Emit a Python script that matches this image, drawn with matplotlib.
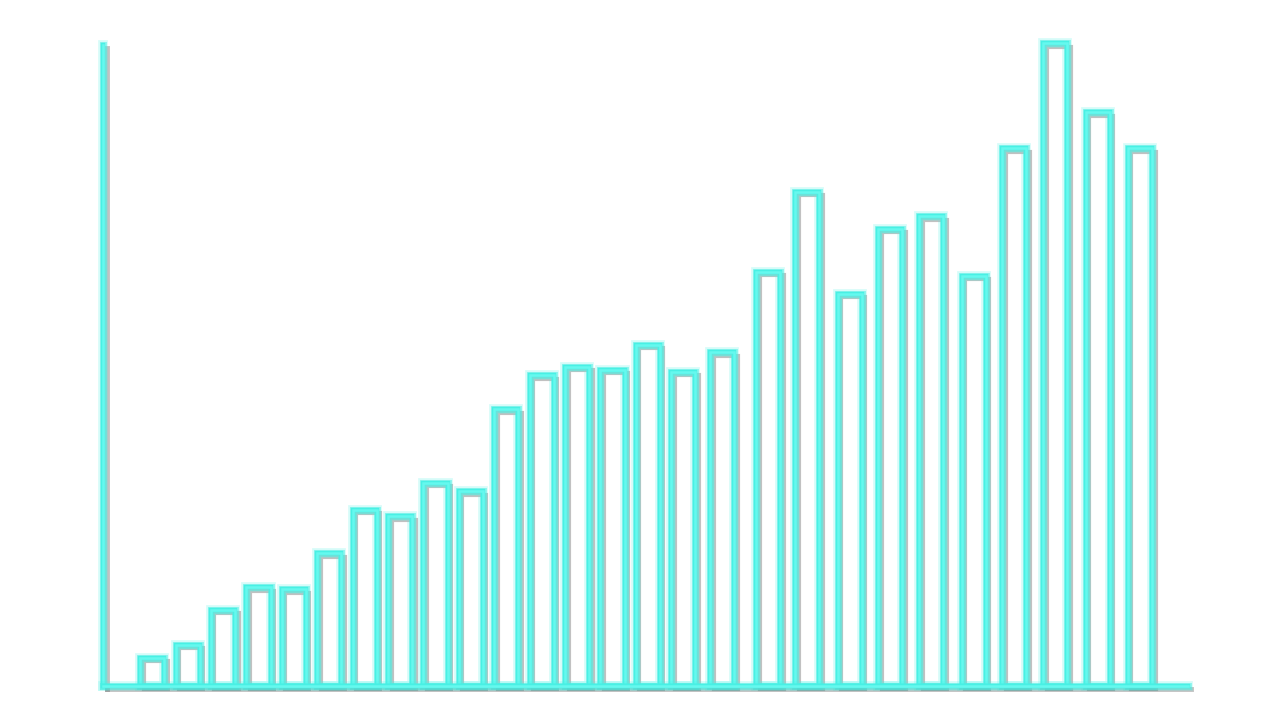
import numpy as np
import matplotlib
matplotlib.use('Agg')
import matplotlib.pyplot as plt
import matplotlib.patheffects as pe

# bar positions (x values are not evenly spaced) and heights
x_vals = [1, 2, 3, 4, 5, 6, 7, 8, 9, 10, 11, 12, 13, 14, 15, 16,
          17.1, 18.4, 19.5, 20.7, 21.85, 23.0, 24.2, 25.35, 26.5, 27.7, 28.9]
heights = [4.4, 6.4, 11.9, 15.4, 15.1, 20.7, 27.5, 26.5, 31.7, 30.4, 43.2,
           48.5, 49.8, 49.3, 53.2, 49.0, 52.1, 64.6, 77.1, 61.2, 71.3, 73.3,
           64.0, 83.9, 100.3, 89.5, 83.9]

neon = '#48f0e4'
core = '#66f8ee'
# grey drop shadow, cyan halo, then the line itself
glow = [pe.SimpleLineShadow(offset=(2.5, -2.5), shadow_color='0.4', alpha=0.4),
        pe.Stroke(linewidth=7, foreground=neon, alpha=0.22),
        pe.Stroke(linewidth=5, foreground=neon, alpha=0.5),
        pe.Stroke(linewidth=3.2, foreground=neon),
        pe.Stroke(linewidth=1.8, foreground=core)]

fig = plt.figure(figsize=(12.8, 7.2), dpi=100)
ax = fig.add_axes([0.0805, 0.0472, 0.8475, 0.8903])

bars = ax.bar(x_vals, heights, width=0.68, fill=False, edgecolor=neon, linewidth=3, zorder=3)
for b in bars:
    b.set_path_effects(glow)
    b.set_clip_on(False)

ax.set_xlim(-0.39, 30.25)
ax.set_ylim(0, 100)

for s in ['top', 'right']:
    ax.spines[s].set_visible(False)
for s in ['left', 'bottom']:
    ax.spines[s].set_color(neon)
    ax.spines[s].set_linewidth(3.5)
    ax.spines[s].set_path_effects(glow)
    ax.spines[s].set_zorder(4)

ax.set_xticks([])
ax.set_yticks([])

plt.savefig('out.png', dpi=100)
